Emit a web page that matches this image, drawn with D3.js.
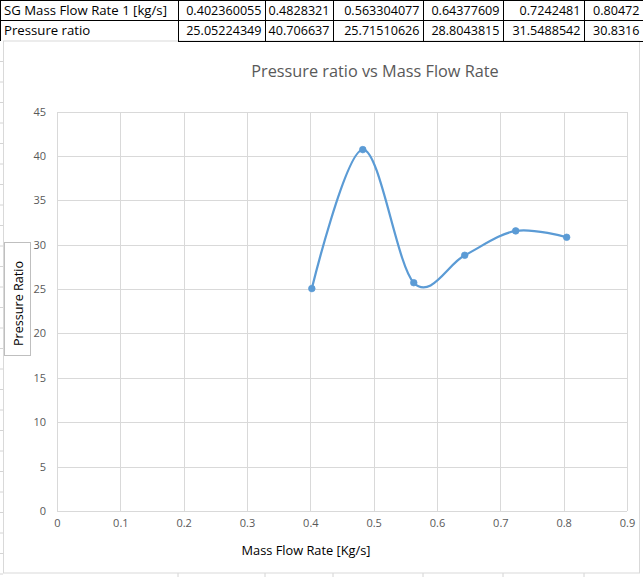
<!DOCTYPE html>
<html>
<head>
<meta charset="utf-8">
<script src="https://cdn.jsdelivr.net/npm/d3@7"></script>
<style>
  html, body { margin: 0; padding: 0; background: #fff; }
  svg { display: block; }
</style>
</head>
<body>
<svg id="chart" width="643" height="577"></svg>
<script>
// ---- data ----
const rowLabels = ["SG Mass Flow Rate 1 [kg/s]", "Pressure ratio"];
const massFlowText = ["0.402360055", "0.4828321", "0.563304077", "0.64377609", "0.7242481", "0.80472"];
const pressureText = ["25.05224349", "40.706637", "25.71510626", "28.8043815", "31.5488542", "30.8316"];
const massFlow = [0.402360055, 0.4828321, 0.563304077, 0.64377609, 0.7242481, 0.80472];
const pressureRatio = [25.05224349, 40.706637, 25.71510626, 28.8043815, 31.5488542, 30.8316];
const xTicks = [0, 0.1, 0.2, 0.3, 0.4, 0.5, 0.6, 0.7, 0.8, 0.9];
const yTicks = [0, 5, 10, 15, 20, 25, 30, 35, 40, 45];
const chartTitle = "Pressure ratio vs Mass Flow Rate";
const xTitle = "Mass Flow Rate [Kg/s]";
const yTitle = "Pressure Ratio";

const svg = d3.select("#chart");
const W = 643, H = 577;

// ---- spreadsheet backdrop ----
const colEdges = [0, 178, 265, 333, 423, 503, 584, 643];
const rowEdges = [0, 20.5, 41];
const sheet = svg.append("g");
for (let yy = 61.5; yy < H; yy += 20.5) {
  sheet.append("line").attr("x1", 0).attr("x2", 3).attr("y1", yy).attr("y2", yy)
    .attr("stroke", "#d4d4d4").attr("stroke-width", 1);
}
colEdges.slice(1, -1).forEach(cx => {
  sheet.append("line").attr("x1", cx).attr("x2", cx).attr("y1", 573).attr("y2", H)
    .attr("stroke", "#d4d4d4").attr("stroke-width", 1);
});

// ---- chart area ----
const chartBox = { x: 3.5, y: 41, w: 636, h: 532 };
svg.append("rect").attr("x", chartBox.x).attr("y", chartBox.y)
  .attr("width", chartBox.w).attr("height", chartBox.h)
  .attr("fill", "#fff").attr("stroke", "#d9d9d9").attr("stroke-width", 1);

// ---- table ----
const font = "'Open Sans', 'Noto Sans', sans-serif";
const table = svg.append("g").attr("font-family", font).attr("fill", "#000");
const cellRows = [massFlowText, pressureText];
cellRows.forEach((vals, r) => {
  const y0 = rowEdges[r], y1 = rowEdges[r + 1];
  table.append("text").attr("x", 4).attr("y", (y0 + y1) / 2 + 4.7)
    .attr("font-size", 13.2).text(rowLabels[r]);
  vals.forEach((v, c) => {
    table.append("text").attr("x", colEdges[c + 2] - 3.5).attr("y", (y0 + y1) / 2 + 4.7)
      .attr("font-size", 12.6).attr("text-anchor", "end").text(v);
  });
});
const tb = svg.append("g").attr("stroke", "#000").attr("stroke-width", 1).attr("shape-rendering", "crispEdges");
tb.append("line").attr("x1", 0).attr("x2", W).attr("y1", 0.5).attr("y2", 0.5);
tb.append("line").attr("x1", 0).attr("x2", W).attr("y1", 20.5).attr("y2", 20.5);
tb.append("line").attr("x1", colEdges[1]).attr("x2", W).attr("y1", 41.5).attr("y2", 41.5);
tb.append("line").attr("x1", 0.5).attr("x2", 0.5).attr("y1", 0).attr("y2", 41);
colEdges.slice(1, -1).forEach(cx => {
  tb.append("line").attr("x1", cx + 0.5).attr("x2", cx + 0.5).attr("y1", 0).attr("y2", 41.5);
});

// ---- plot ----
const x = d3.scaleLinear().domain([0, 0.9]).range([57, 627]);
const y = d3.scaleLinear().domain([0, 45]).range([511, 111.5]);

const grid = svg.append("g").attr("stroke", "#d9d9d9").attr("stroke-width", 1).attr("shape-rendering", "crispEdges");
yTicks.forEach(t => {
  grid.append("line").attr("x1", x(0)).attr("x2", x(0.9))
    .attr("y1", Math.round(y(t)) + 0.5).attr("y2", Math.round(y(t)) + 0.5);
});
xTicks.forEach(t => {
  grid.append("line").attr("x1", Math.round(x(t)) + 0.5).attr("x2", Math.round(x(t)) + 0.5)
    .attr("y1", y(45)).attr("y2", y(0));
});

const yAxis = d3.axisLeft(y).tickValues(yTicks).tickSize(0).tickPadding(0).tickFormat(d3.format("d"));
const gy = svg.append("g").attr("transform", "translate(46,0)").call(yAxis);
gy.select(".domain").remove();
gy.selectAll("text").attr("font-family", font).attr("font-size", 11).attr("fill", "#595959");

const xAxis = d3.axisBottom(x).tickValues(xTicks).tickSize(0).tickPadding(0)
  .tickFormat(d => d === 0 ? "0" : d3.format(".1f")(d));
const gx = svg.append("g").attr("transform", "translate(0,519)").call(xAxis);
gx.select(".domain").remove();
gx.selectAll("text").attr("font-family", font).attr("font-size", 11).attr("fill", "#595959");

svg.append("text").attr("x", 375).attr("y", 77).attr("text-anchor", "middle")
  .attr("font-family", font).attr("font-size", 16.3).attr("fill", "#595959").text(chartTitle);

svg.append("text").attr("x", 306).attr("y", 554.5).attr("text-anchor", "middle")
  .attr("font-family", font).attr("font-size", 12.8).attr("fill", "#000").text(xTitle);

svg.append("rect").attr("x", 4.5).attr("y", 242.5).attr("width", 26).attr("height", 113)
  .attr("fill", "#fff").attr("stroke", "#bfbfbf").attr("stroke-width", 1);
svg.append("text").attr("transform", "translate(22.5,303.5) rotate(-90)").attr("text-anchor", "middle")
  .attr("font-family", font).attr("font-size", 12.6).attr("fill", "#000").text(yTitle);

const pts = massFlow.map((m, i) => [m, pressureRatio[i]]);
const line = d3.line().x(d => x(d[0])).y(d => y(d[1])).curve(d3.curveCardinal.tension(0));
svg.append("path").attr("d", line(pts)).attr("fill", "none")
  .attr("stroke", "#5b9bd5").attr("stroke-width", 2.25).attr("stroke-linecap", "round");
svg.append("g").selectAll("circle").data(pts).join("circle")
  .attr("cx", d => x(d[0])).attr("cy", d => y(d[1])).attr("r", 3.3)
  .attr("fill", "#5b9bd5").attr("stroke", "#5b9bd5").attr("stroke-width", 0.75);
</script>
</body>
</html>
